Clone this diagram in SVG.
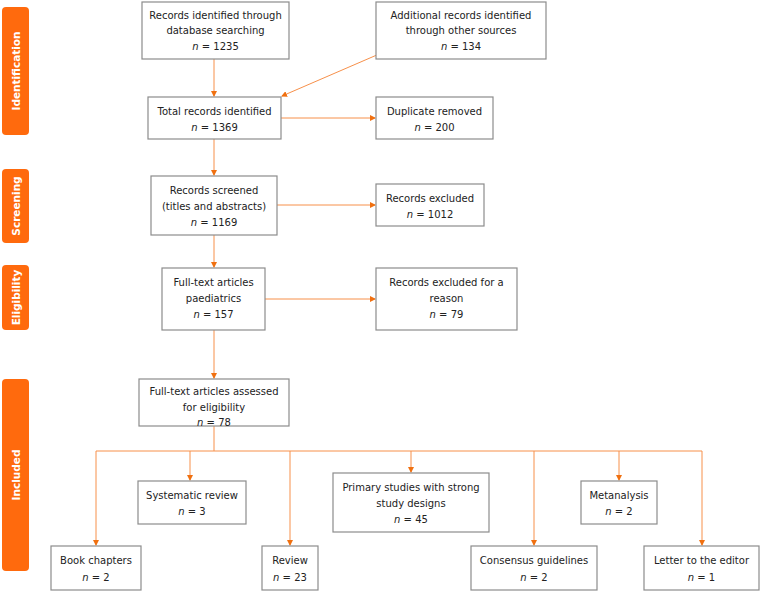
<svg xmlns="http://www.w3.org/2000/svg" width="760" height="592" viewBox="0 0 760 592">
<style>
.box{fill:#fff;stroke:#8c8c8c;stroke-width:1.2}
.t{font-family:"DejaVu Sans",sans-serif;font-size:10px;fill:#222;text-anchor:middle}
.i{font-style:italic}
.side{fill:#ff6a0d}
.st{font-family:"DejaVu Sans",sans-serif;font-size:10.5px;font-weight:bold;fill:#fff;text-anchor:middle}
.c{stroke:#f7904a;stroke-width:1;fill:none}
.a{marker-end:url(#ar)}
</style>
<defs><marker id="ar" markerWidth="6" markerHeight="6" refX="5" refY="3" orient="auto" markerUnits="userSpaceOnUse"><path d="M0,0 L6,3 L0,6 Z" fill="#f07010"/></marker></defs>
<g id="phases">
<rect class="side" x="2" y="7" width="27" height="128" rx="4"/><text class="st" transform="translate(19.5,71) rotate(-90)">Identification</text>
<rect class="side" x="2" y="169" width="27" height="74" rx="4"/><text class="st" transform="translate(19.5,206) rotate(-90)">Screening</text>
<rect class="side" x="2" y="265" width="27" height="65" rx="4"/><text class="st" transform="translate(19.5,297.5) rotate(-90)">Eligibility</text>
<rect class="side" x="2" y="379" width="27" height="192" rx="4"/><text class="st" transform="translate(19.5,475) rotate(-90)">Included</text>
</g>
<g id="connectors">
<path class="c a" d="M214,59 V96"/>
<path class="c a" d="M430,32 L282,96"/>
<path class="c a" d="M281,118 H375"/>
<path class="c a" d="M214,139 V175"/>
<path class="c a" d="M277,205 H375"/>
<path class="c a" d="M214,235 V267"/>
<path class="c a" d="M265,299 H375"/>
<path class="c a" d="M214,330 V378"/>
<path class="c" d="M214,426 V451 M96,451 H702"/>
<path class="c a" d="M96,451 V545"/>
<path class="c a" d="M190,451 V480"/>
<path class="c a" d="M290,451 V545"/>
<path class="c a" d="M411,451 V472"/>
<path class="c a" d="M534,451 V545"/>
<path class="c a" d="M619,451 V480"/>
<path class="c a" d="M702,451 V545"/>
</g>
<g id="n1"><rect class="box" x="142" y="2" width="147" height="57"/><text class="t" x="215.5" y="19">Records identified through</text><text class="t" x="215.5" y="34">database searching</text><text class="t" x="215.5" y="50"><tspan class="i">n</tspan> = 1235</text></g>
<g id="n2"><rect class="box" x="376" y="2" width="170" height="57"/><text class="t" x="461" y="19">Additional records identified</text><text class="t" x="461" y="34">through other sources</text><text class="t" x="461" y="50"><tspan class="i">n</tspan> = 134</text></g>
<g id="n3"><rect class="box" x="148" y="97" width="133" height="42"/><text class="t" x="214.5" y="115">Total records identified</text><text class="t" x="214.5" y="131"><tspan class="i">n</tspan> = 1369</text></g>
<g id="n4"><rect class="box" x="376" y="97" width="117" height="42"/><text class="t" x="434.5" y="115">Duplicate removed</text><text class="t" x="434.5" y="131"><tspan class="i">n</tspan> = 200</text></g>
<g id="n5"><rect class="box" x="151" y="176" width="126" height="59"/><text class="t" x="214" y="194">Records screened</text><text class="t" x="214" y="210">(titles and abstracts)</text><text class="t" x="214" y="226"><tspan class="i">n</tspan> = 1169</text></g>
<g id="n6"><rect class="box" x="376" y="184" width="108" height="42"/><text class="t" x="430" y="202">Records excluded</text><text class="t" x="430" y="218"><tspan class="i">n</tspan> = 1012</text></g>
<g id="n7"><rect class="box" x="162" y="268" width="103" height="62"/><text class="t" x="213.5" y="286">Full-text articles</text><text class="t" x="213.5" y="302">paediatrics</text><text class="t" x="213.5" y="318"><tspan class="i">n</tspan> = 157</text></g>
<g id="n8"><rect class="box" x="376" y="268" width="141" height="62"/><text class="t" x="446.5" y="286">Records excluded for a</text><text class="t" x="446.5" y="302">reason</text><text class="t" x="446.5" y="318"><tspan class="i">n</tspan> = 79</text></g>
<g id="n9"><rect class="box" x="139" y="379" width="150" height="47"/><text class="t" x="214" y="395">Full-text articles assessed</text><text class="t" x="214" y="411">for eligibility</text><text class="t" x="214" y="426"><tspan class="i">n</tspan> = 78</text></g>
<g id="n10"><rect class="box" x="138" y="481" width="108" height="43"/><text class="t" x="192" y="499">Systematic review</text><text class="t" x="192" y="515"><tspan class="i">n</tspan> = 3</text></g>
<g id="n11"><rect class="box" x="51" y="546" width="90" height="44"/><text class="t" x="96" y="564">Book chapters</text><text class="t" x="96" y="581"><tspan class="i">n</tspan> = 2</text></g>
<g id="n12"><rect class="box" x="262" y="546" width="56" height="44"/><text class="t" x="290" y="564">Review</text><text class="t" x="290" y="581"><tspan class="i">n</tspan> = 23</text></g>
<g id="n13"><rect class="box" x="333" y="473" width="156" height="59"/><text class="t" x="411" y="491">Primary studies with strong</text><text class="t" x="411" y="507">study designs</text><text class="t" x="411" y="523"><tspan class="i">n</tspan> = 45</text></g>
<g id="n14"><rect class="box" x="471" y="546" width="126" height="44"/><text class="t" x="534" y="564">Consensus guidelines</text><text class="t" x="534" y="581"><tspan class="i">n</tspan> = 2</text></g>
<g id="n15"><rect class="box" x="581" y="481" width="76" height="43"/><text class="t" x="619" y="499">Metanalysis</text><text class="t" x="619" y="515"><tspan class="i">n</tspan> = 2</text></g>
<g id="n16"><rect class="box" x="644" y="546" width="115" height="44"/><text class="t" x="701.5" y="564">Letter to the editor</text><text class="t" x="701.5" y="581"><tspan class="i">n</tspan> = 1</text></g>
</svg>
